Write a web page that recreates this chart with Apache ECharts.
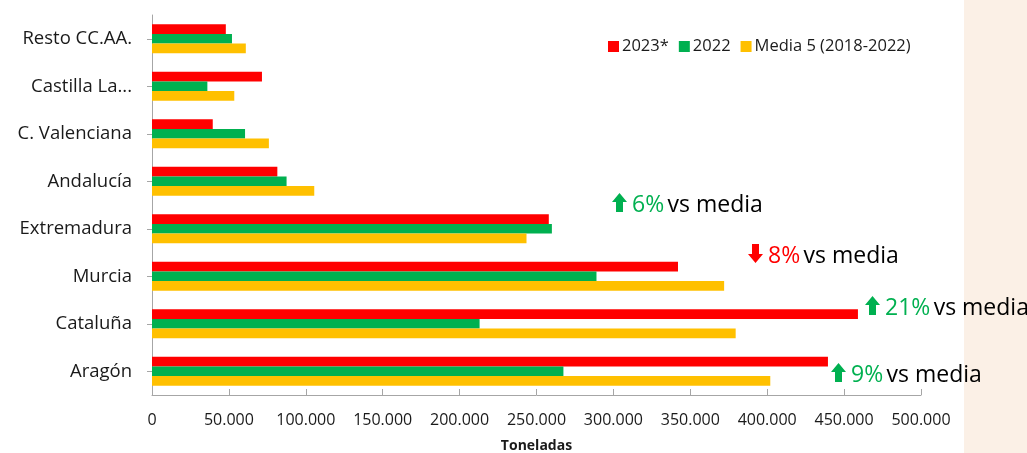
<!DOCTYPE html>
<html>
<head>
<meta charset="utf-8">
<script src="https://cdn.jsdelivr.net/npm/echarts@6/dist/echarts.min.js"></script>
<style>
  html, body { margin: 0; padding: 0; background: #fff; }
  #chart { width: 1027px; height: 453px; }
</style>
</head>
<body>
<div id="chart"></div>
<script>
// regiones, de arriba a abajo
var categorias = ['Resto CC.AA.', 'Castilla La...', 'C. Valenciana', 'Andalucía', 'Extremadura', 'Murcia', 'Cataluña', 'Aragón'];
var serie2023 = [48000, 71500, 39500, 81500, 258000, 342000, 459000, 439500];
var serie2022 = [52000, 36000, 60500, 87500, 260000, 289000, 213000, 267500];
var media5 = [61000, 53500, 76000, 105500, 243500, 372000, 379500, 402000];
var nombres = ['2023*', '2022', 'Media 5 (2018-2022)'];
var colores = ['#FF0000', '#00B050', '#FFC000'];

// anotaciones: % frente a la media, sube o baja
var notas = [
    { pct: '6%', up: true, x: 612, y: 205 },
    { pct: '8%', up: false, x: 748, y: 256 },
    { pct: '21%', up: true, x: 865, y: 308 },
    { pct: '9%', up: true, x: 831, y: 375 }
];

var fuente = '"Open Sans", Lato, sans-serif';

function flecha(n) {
    // flecha gruesa, 15 x 19
    var pts = n.up
        ? [[7.5, 0], [15, 9], [11, 9], [11, 19], [4, 19], [4, 9], [0, 9]]
        : [[4, 0], [11, 0], [11, 10], [15, 10], [7.5, 19], [0, 10], [4, 10]];
    var col = n.up ? '#00B050' : '#FF0000';
    return [
        { type: 'polygon', x: n.x, y: n.y - 12, z: 100, shape: { points: pts }, style: { fill: col } },
        {
            type: 'text',
            x: n.x + 20,
            y: n.y,
            z: 100,
            style: {
                text: '{p|' + n.pct + '} {t|vs media}',
                verticalAlign: 'middle',
                rich: {
                    p: { fill: col, fontSize: 23, fontFamily: fuente },
                    t: { fill: '#000', fontSize: 23, fontFamily: fuente }
                }
            }
        }
    ];
}

var graficos = [{
    type: 'rect',
    right: 0,
    top: 0,
    z: -10,
    shape: { width: 63, height: 453 },
    style: { fill: '#FBF0E6' }
}];
notas.forEach(function (n) { graficos = graficos.concat(flecha(n)); });

var series = [serie2023, serie2022, media5].map(function (d, i) {
    return {
        name: nombres[i],
        type: 'bar',
        data: d,
        barGap: '0%',
        barCategoryGap: '39%',
        itemStyle: { color: colores[i] }
    };
});

var option = {
    animation: false,
    color: colores,
    textStyle: { fontFamily: fuente },
    grid: { left: 152, right: 106, top: 15, bottom: 58, containLabel: false, outerBoundsMode: 'none' },
    legend: {
        left: 603,
        top: 33,
        itemWidth: 11,
        itemHeight: 11,
        itemGap: 10,
        icon: 'rect',
        textStyle: { fontSize: 16.5, color: '#1a1a1a', fontFamily: fuente, padding: [0, 0, 0, -2] },
        data: nombres
    },
    xAxis: {
        type: 'value',
        min: 0,
        max: 500000,
        interval: 50000,
        name: 'Toneladas',
        nameLocation: 'middle',
        nameGap: 44,
        nameTextStyle: { fontSize: 14, fontWeight: 'bold', color: '#1a1a1a', fontFamily: fuente },
        axisLine: { show: true, lineStyle: { color: '#A6A6A6' } },
        axisTick: { show: true, inside: true, length: 6, lineStyle: { color: '#A6A6A6' } },
        splitLine: { show: false },
        axisLabel: {
            fontSize: 16,
            color: '#1a1a1a',
            margin: 17,
            formatter: function (v) {
                return String(v).replace(/\B(?=(\d{3})+(?!\d))/g, '.');
            }
        }
    },
    yAxis: {
        type: 'category',
        inverse: true,
        data: categorias,
        axisLine: { show: true, lineStyle: { color: '#A6A6A6' } },
        axisTick: { show: true, alignWithLabel: true, length: 5, lineStyle: { color: '#A6A6A6' } },
        axisLabel: { fontSize: 18.5, color: '#1a1a1a', margin: 20 }
    },
    graphic: graficos,
    series: series
};

var chart = echarts.init(document.getElementById('chart'));
chart.setOption(option);
</script>
</body>
</html>
